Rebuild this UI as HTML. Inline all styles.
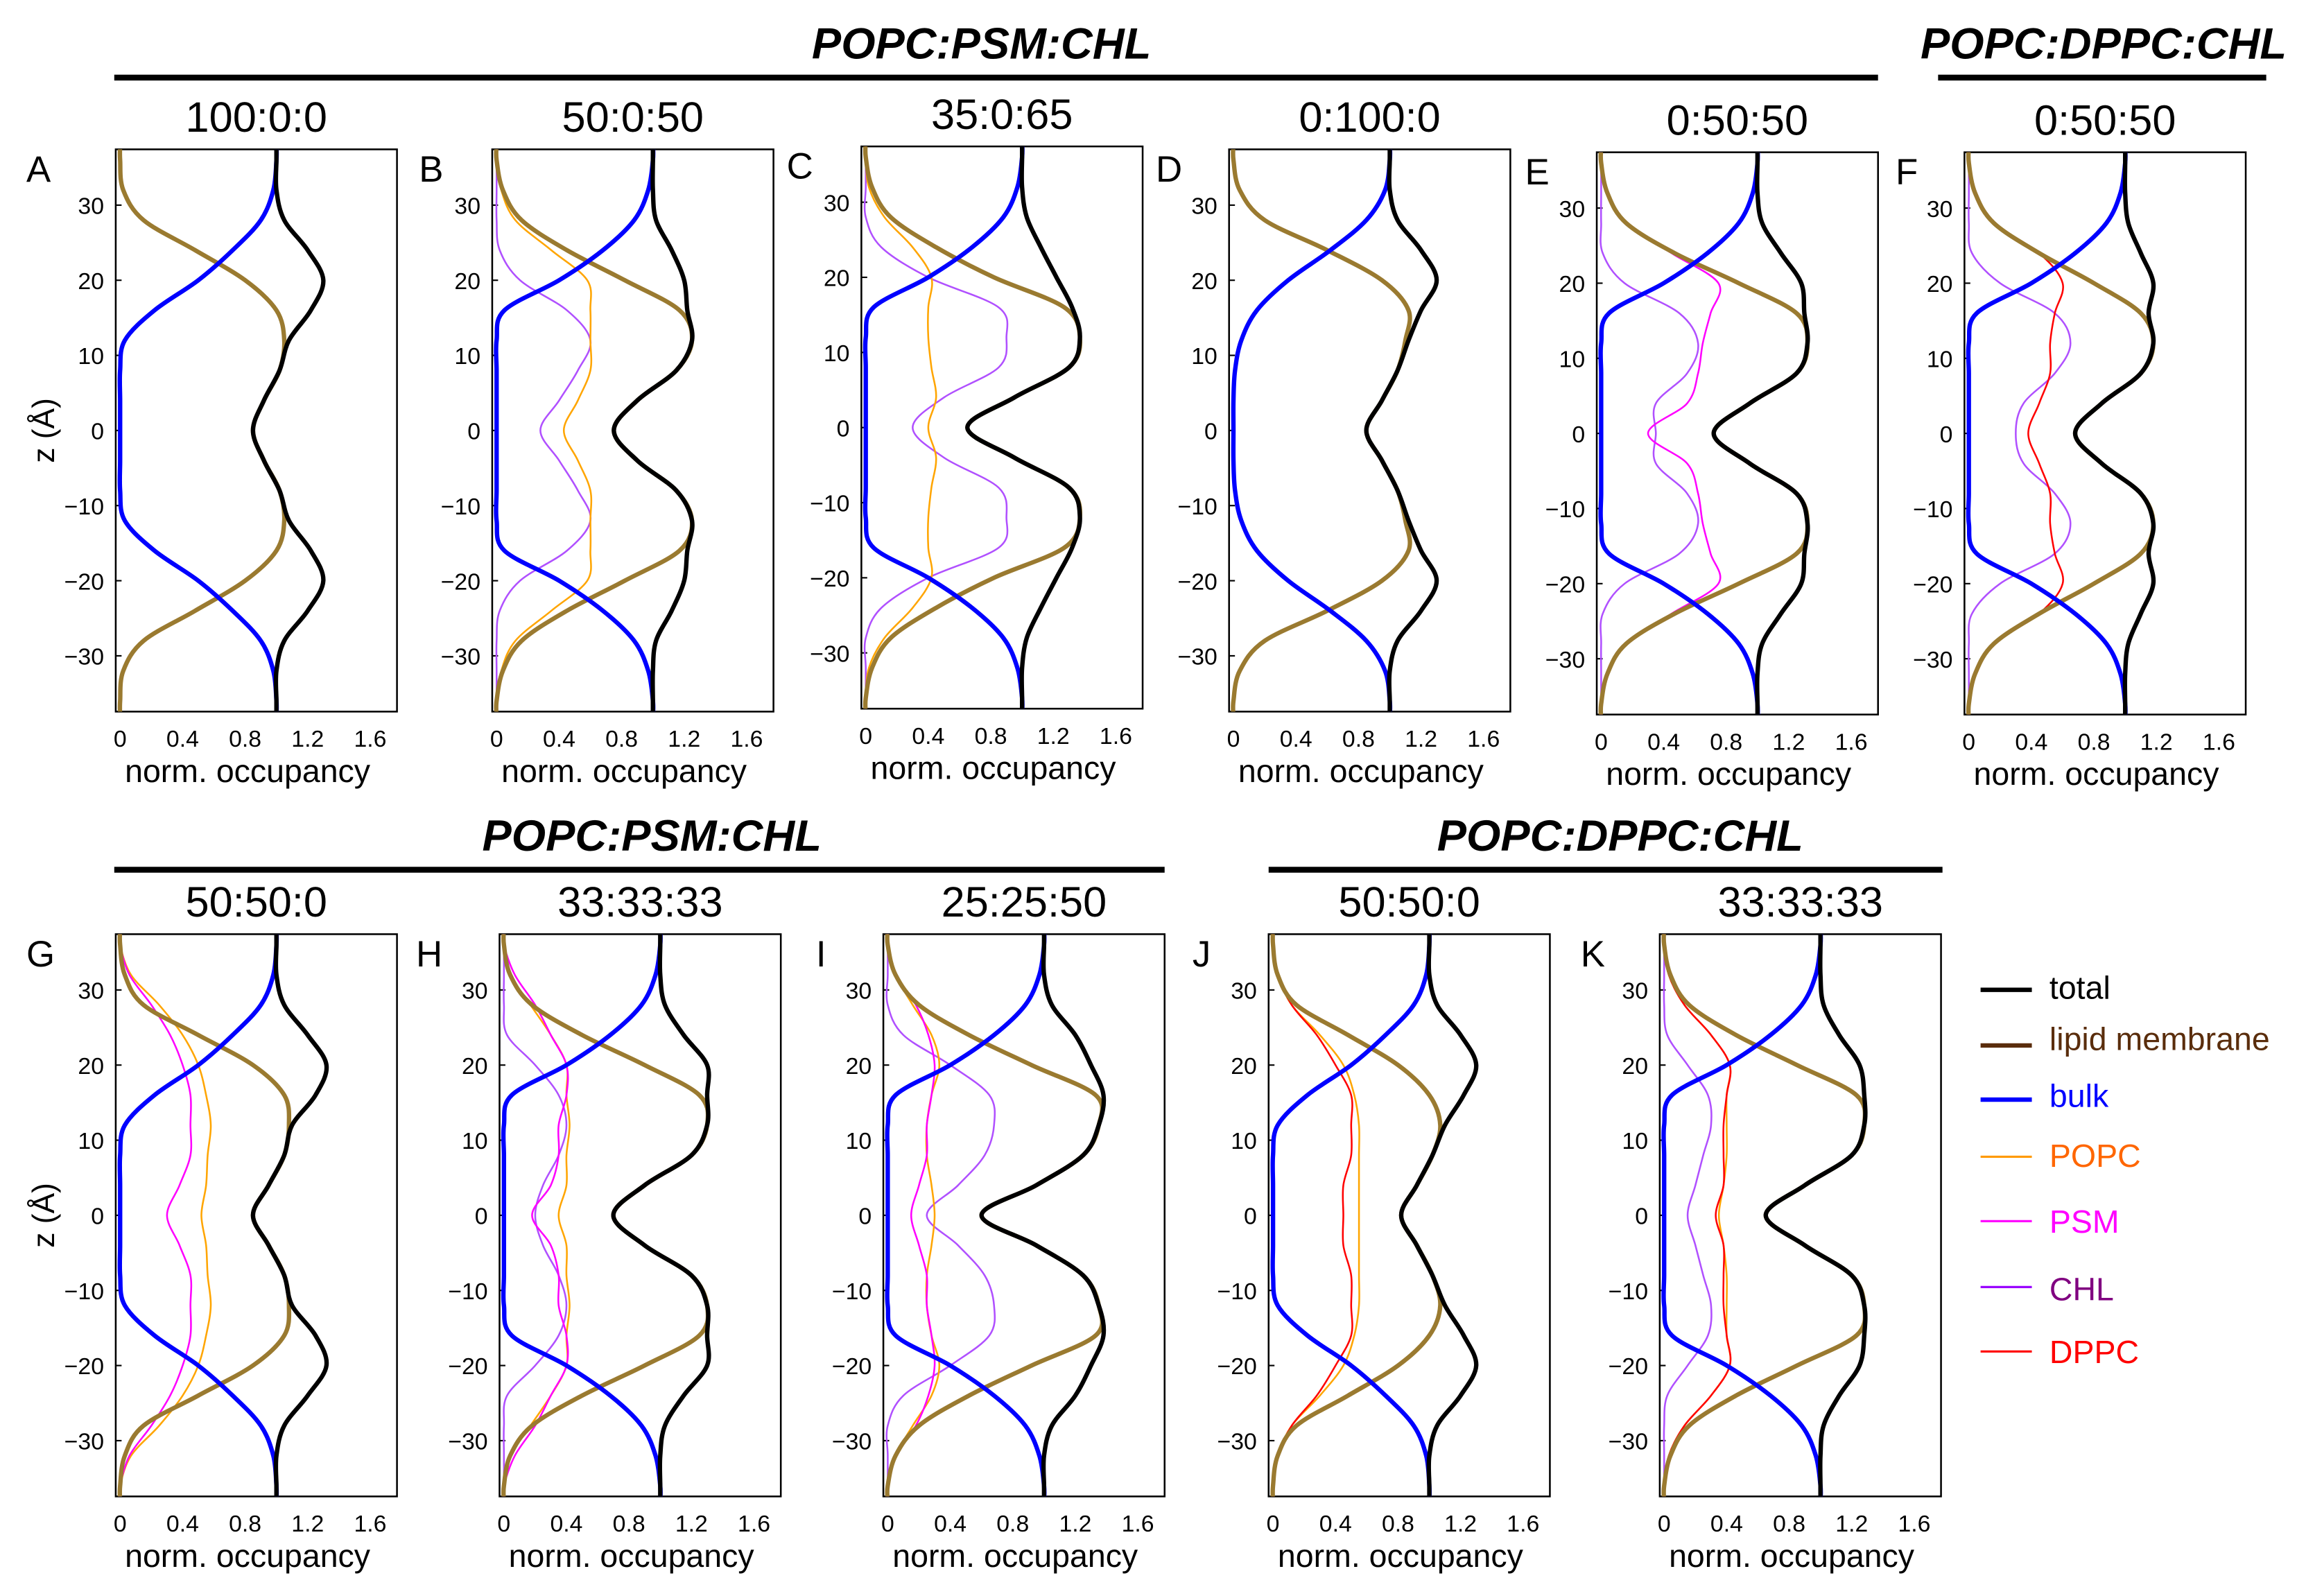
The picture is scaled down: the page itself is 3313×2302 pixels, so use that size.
<!DOCTYPE html>
<html><head><meta charset="utf-8">
<style>
html,body{margin:0;padding:0;background:#fff;}
svg{display:block;font-family:"Liberation Sans",sans-serif;}
</style></head>
<body>
<svg id="fig" width="3313" height="2302" viewBox="0 0 1568 1090" preserveAspectRatio="none" xmlns="http://www.w3.org/2000/svg">
<g>
<text x="670" y="40" font-size="30" font-weight="bold" font-style="italic" text-anchor="middle">POPC:PSM:CHL</text>
<rect x="78" y="51" width="1204" height="4" fill="#000"/>
<text x="1436" y="40" font-size="30" font-weight="bold" font-style="italic" text-anchor="middle">POPC:DPPC:CHL</text>
<rect x="1323" y="51" width="224" height="4" fill="#000"/>
<text x="445" y="581" font-size="30" font-weight="bold" font-style="italic" text-anchor="middle">POPC:PSM:CHL</text>
<rect x="78" y="592" width="717" height="4" fill="#000"/>
<text x="1106" y="581" font-size="30" font-weight="bold" font-style="italic" text-anchor="middle">POPC:DPPC:CHL</text>
<rect x="866" y="592" width="460" height="4" fill="#000"/>
</g>
<g>
<line x1="1352" y1="676" x2="1387" y2="676" stroke="#000" stroke-width="3"/>
<text x="1399" y="682" font-size="22" fill="#000">total</text>
<line x1="1352" y1="714" x2="1387" y2="714" stroke="#5a2d0c" stroke-width="3"/>
<text x="1399" y="717" font-size="22" fill="#5a2d0c">lipid membrane</text>
<line x1="1352" y1="751" x2="1387" y2="751" stroke="#0000ff" stroke-width="3"/>
<text x="1399" y="756" font-size="22" fill="#0000ff">bulk</text>
<line x1="1352" y1="790" x2="1387" y2="790" stroke="#ff9900" stroke-width="1.5"/>
<text x="1399" y="797" font-size="22" fill="#ff6600">POPC</text>
<line x1="1352" y1="834" x2="1387" y2="834" stroke="#ff00ff" stroke-width="1.5"/>
<text x="1399" y="842" font-size="22" fill="#ff00ff">PSM</text>
<line x1="1352" y1="879" x2="1387" y2="879" stroke="#9900ff" stroke-width="1.5"/>
<text x="1399" y="888" font-size="22" fill="#800080">CHL</text>
<line x1="1352" y1="923" x2="1387" y2="923" stroke="#ff0000" stroke-width="1.5"/>
<text x="1399" y="931" font-size="22" fill="#ff0000">DPPC</text>
</g>
</svg>
<script>
// z sample positions (Å), half-profile mirrored about z=0
const zSamples=[0,4,8,12,16,20,24,28,32,36];
const xTicks=[0,0.4,0.8,1.2,1.6];
const xTickLabels=["0","0.4","0.8","1.2","1.6"];
const yTicks=[-30,-20,-10,0,10,20,30];
const yTickLabels=["−30","−20","−10","0","10","20","30"];

const bulkBroadA=[0,0,0,0.03,0.22,0.5,0.72,0.9,0.98,1];
const bulkSharp=[0,0,0,0,0.05,0.4,0.68,0.88,0.97,1];

const A_total=[0.85,0.92,1.02,1.08,1.22,1.3,1.2,1.05,1.0,1.0];
const A_lipid=[0.85,0.92,1.02,1.05,1.0,0.8,0.48,0.15,0.02,0];
const B_total=[0.75,0.9,1.15,1.25,1.22,1.2,1.12,1.02,1.0,1.0];
const B_lipid=[0.75,0.9,1.15,1.25,1.17,0.82,0.45,0.16,0.04,0];
const B_popc=[0.43,0.52,0.6,0.6,0.6,0.58,0.35,0.12,0.03,0];
const B_chl=[0.28,0.4,0.52,0.6,0.45,0.15,0.02,0,0,0];
const C_total=[0.65,0.95,1.3,1.37,1.32,1.22,1.12,1.03,1.0,1.0];
const C_lipid=[0.65,0.95,1.3,1.37,1.27,0.82,0.45,0.16,0.04,0];
const C_popc=[0.4,0.45,0.42,0.4,0.4,0.42,0.3,0.12,0.02,0];
const C_chl=[0.3,0.5,0.85,0.9,0.85,0.4,0.1,0,0,0];
const D_total=[0.85,0.95,1.05,1.12,1.2,1.3,1.2,1.05,1.0,1.0];
const D_lipid=[0.85,0.95,1.05,1.1,1.12,0.95,0.6,0.2,0.04,0];
const D_bulk=[0,0,0.01,0.05,0.15,0.35,0.62,0.85,0.97,1];
const E_total=[0.72,0.95,1.25,1.32,1.3,1.28,1.15,1.03,1.0,1.0];
const E_lipid=[0.72,0.95,1.25,1.32,1.25,0.88,0.47,0.16,0.04,0];
const E_psm=[0.3,0.55,0.62,0.65,0.7,0.75,0.45,0.15,0.04,0];
const E_chl=[0.35,0.35,0.55,0.62,0.5,0.15,0.01,0,0,0];
const F_total=[0.68,0.85,1.1,1.18,1.15,1.18,1.1,1.02,1.0,1.0];
const F_lipid=[0.68,0.85,1.1,1.18,1.1,0.8,0.45,0.16,0.04,0];
const F_dppc=[0.38,0.45,0.52,0.52,0.55,0.6,0.45,0.16,0.04,0];
const F_chl=[0.3,0.35,0.55,0.65,0.55,0.2,0.02,0,0,0];
const G_total=[0.85,0.95,1.05,1.1,1.25,1.32,1.2,1.05,1.0,1.0];
const G_lipid=[0.85,0.95,1.05,1.08,1.05,0.85,0.5,0.15,0.03,0];
const G_popc=[0.52,0.55,0.56,0.58,0.55,0.5,0.4,0.25,0.07,0];
const G_psm=[0.3,0.38,0.45,0.45,0.45,0.4,0.32,0.2,0.06,0];
const H_total=[0.7,0.9,1.2,1.3,1.3,1.3,1.15,1.03,1.0,1.0];
const H_lipid=[0.7,0.9,1.2,1.3,1.25,0.9,0.5,0.18,0.04,0];
const H_popc=[0.35,0.4,0.4,0.42,0.4,0.4,0.3,0.17,0.04,0];
const H_psm=[0.18,0.3,0.35,0.35,0.4,0.4,0.3,0.2,0.07,0];
const H_chl=[0.2,0.25,0.35,0.4,0.35,0.2,0.02,0,0,0];
const I_total=[0.6,0.95,1.25,1.35,1.38,1.3,1.2,1.05,1.0,1.0];
const I_lipid=[0.6,0.95,1.25,1.35,1.33,0.92,0.52,0.2,0.05,0];
const I_popc=[0.3,0.28,0.25,0.25,0.28,0.33,0.28,0.16,0.05,0];
const I_psm=[0.15,0.2,0.25,0.25,0.28,0.3,0.26,0.18,0.05,0];
const I_chl=[0.25,0.45,0.62,0.68,0.65,0.4,0.1,0,0,0];
const J_total=[0.82,0.92,1.02,1.1,1.22,1.3,1.2,1.05,1.0,1.0];
const J_lipid=[0.82,0.92,1.02,1.07,1.0,0.8,0.48,0.15,0.03,0];
const J_popc=[0.55,0.55,0.55,0.55,0.52,0.45,0.3,0.12,0.03,0];
const J_dppc=[0.45,0.45,0.5,0.5,0.5,0.4,0.28,0.12,0.03,0];
const K_total=[0.65,0.9,1.2,1.28,1.28,1.25,1.12,1.02,1.0,1.0];
const K_lipid=[0.65,0.9,1.2,1.28,1.23,0.85,0.46,0.16,0.04,0];
const K_popc=[0.35,0.38,0.4,0.4,0.4,0.42,0.3,0.13,0.03,0];
const K_dppc=[0.33,0.38,0.38,0.38,0.4,0.42,0.3,0.13,0.03,0];
const K_chl=[0.15,0.2,0.25,0.3,0.28,0.15,0.02,0,0,0];

const COL={total:"#000",lipid:"#9a7a30",bulk:"#0000ff",popc:"#ffa500",psm:"#ff00ff",chl:"#b050ff",dppc:"#ff0000"};
const W={total:3,lipid:3,bulk:3,popc:1.2,psm:1.2,chl:1.2,dppc:1.2};

const panels=[
 {id:"A",ratio:"100:0:0",x:79,y:102,lx:18,yl:true,s:{lipid:A_lipid,bulk:bulkBroadA,total:A_total}},
 {id:"B",ratio:"50:0:50",x:336,y:102,lx:286,s:{chl:B_chl,popc:B_popc,lipid:B_lipid,bulk:bulkSharp,total:B_total}},
 {id:"C",ratio:"35:0:65",x:588,y:100,lx:537,s:{chl:C_chl,popc:C_popc,lipid:C_lipid,bulk:bulkSharp,total:C_total}},
 {id:"D",ratio:"0:100:0",x:839,y:102,lx:789,s:{lipid:D_lipid,bulk:D_bulk,total:D_total}},
 {id:"E",ratio:"0:50:50",x:1090,y:104,lx:1041,s:{chl:E_chl,psm:E_psm,lipid:E_lipid,bulk:bulkSharp,total:E_total}},
 {id:"F",ratio:"0:50:50",x:1341,y:104,lx:1294,s:{chl:F_chl,dppc:F_dppc,lipid:F_lipid,bulk:bulkSharp,total:F_total}},
 {id:"G",ratio:"50:50:0",x:79,y:638,lx:18,yl:true,s:{popc:G_popc,psm:G_psm,lipid:G_lipid,bulk:bulkBroadA,total:G_total}},
 {id:"H",ratio:"33:33:33",x:341,y:638,lx:284,s:{chl:H_chl,popc:H_popc,psm:H_psm,lipid:H_lipid,bulk:bulkSharp,total:H_total}},
 {id:"I",ratio:"25:25:50",x:603,y:638,lx:557,s:{chl:I_chl,popc:I_popc,psm:I_psm,lipid:I_lipid,bulk:bulkSharp,total:I_total}},
 {id:"J",ratio:"50:50:0",x:866,y:638,lx:814,s:{popc:J_popc,dppc:J_dppc,lipid:J_lipid,bulk:bulkBroadA,total:J_total}},
 {id:"K",ratio:"33:33:33",x:1133,y:638,lx:1079,s:{chl:K_chl,popc:K_popc,dppc:K_dppc,lipid:K_lipid,bulk:bulkSharp,total:K_total}}
];
const PW=192,PH=384;
const NS="http://www.w3.org/2000/svg";
const svg=document.getElementById("fig");
function mk(tag,attrs,parent){const e=document.createElementNS(NS,tag);for(const k in attrs)e.setAttribute(k,attrs[k]);parent.appendChild(e);return e;}

function pathFrom(pts){
 let d="M"+pts[0][0].toFixed(2)+","+pts[0][1].toFixed(2);
 for(let i=0;i<pts.length-1;i++){
  const p0=pts[Math.max(0,i-1)],p1=pts[i],p2=pts[i+1],p3=pts[Math.min(pts.length-1,i+2)];
  const c1=[p1[0]+(p2[0]-p0[0])/6,p1[1]+(p2[1]-p0[1])/6];
  const c2=[p2[0]-(p3[0]-p1[0])/6,p2[1]-(p3[1]-p1[1])/6];
  d+="C"+c1[0].toFixed(2)+","+c1[1].toFixed(2)+" "+c2[0].toFixed(2)+","+c2[1].toFixed(2)+" "+p2[0].toFixed(2)+","+p2[1].toFixed(2);
 }
 return d;
}

panels.forEach(p=>{
 const g=mk("g",{},svg);
 
 
 const xs=v=>p.x+3+v*106.7;
 const ys=z=>p.y+PH/2-z*5.13;
 const cp=mk("clipPath",{id:"clip"+p.id},g);
 mk("rect",{x:p.x,y:p.y,width:PW,height:PH},cp);
 const frame=mk("rect",{x:p.x,y:p.y,width:PW,height:PH,fill:"none",stroke:"#000","stroke-width":1.2},g);
 
 
 const lt=mk("text",{x:p.lx,y:p.y+22,"font-size":25},g);lt.textContent=p.id;
 
 
 const rt=mk("text",{x:p.x+PW/2,y:p.y-12,"font-size":29,"text-anchor":"middle"},g);rt.textContent=p.ratio;
 
 
 yTicks.forEach((t,i)=>{
  const tx=mk("text",{x:p.x-8,y:ys(t)+6,"font-size":16,"text-anchor":"end"},g);tx.textContent=yTickLabels[i];
  
  
  mk("line",{x1:p.x,x2:p.x+4,y1:ys(t),y2:ys(t),stroke:"#000","stroke-width":1},g);
 });
 xTicks.forEach((t,i)=>{
  const tx=mk("text",{x:xs(t),y:p.y+PH+24,"font-size":16,"text-anchor":"middle"},g);tx.textContent=xTickLabels[i];
  
  
 });
 const xl=mk("text",{x:p.x+PW/2-6,y:p.y+PH+48,"font-size":22,"text-anchor":"middle"},g);xl.textContent="norm. occupancy";
 
 
 if(p.yl){
  const yl=mk("text",{x:0,y:0,"font-size":21,"text-anchor":"middle",transform:"translate("+(p.x-42)+","+(p.y+PH/2)+") rotate(-90)"},g);yl.textContent="z (Å)";
  
  
 }
 const sg=mk("g",{"clip-path":"url(#clip"+p.id+")"},g);
 ["chl","popc","psm","dppc","lipid","bulk","total"].forEach(k=>{
  const arr=p.s[k];if(!arr)return;
  const pts=[];
  pts.push([xs(arr[arr.length-1]),ys(-38)]);
  for(let i=zSamples.length-1;i>=1;i--)pts.push([xs(arr[i]),ys(-zSamples[i])]);
  for(let i=0;i<zSamples.length;i++)pts.push([xs(arr[i]),ys(zSamples[i])]);
  pts.push([xs(arr[arr.length-1]),ys(38)]);
  const path=mk("path",{d:pathFrom(pts),fill:"none",stroke:COL[k],"stroke-width":W[k],"stroke-linejoin":"round"},sg);
  
  
 });
});
</script>
</body></html>
